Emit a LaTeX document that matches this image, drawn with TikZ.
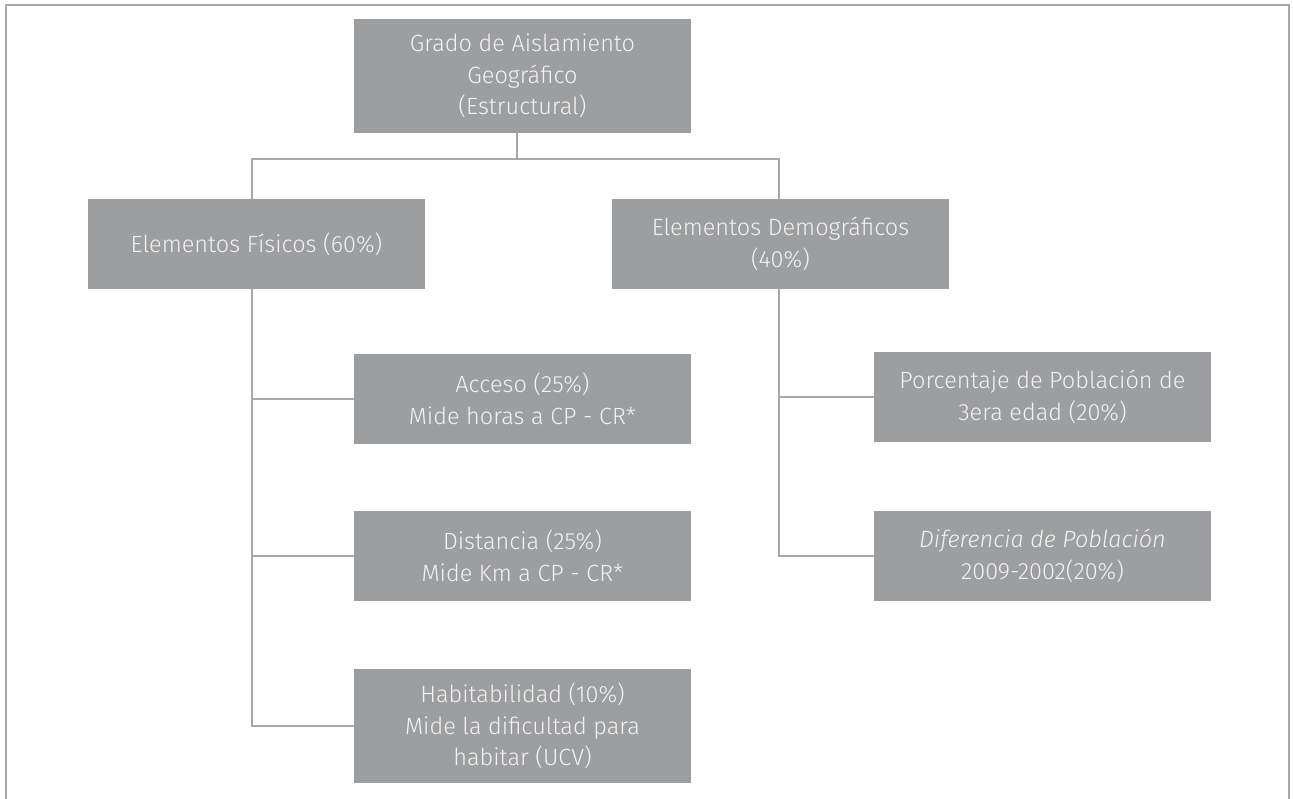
\documentclass[tikz,border=0pt]{standalone}
\usepackage{fontspec}
\setmainfont{Fira Sans Light}[ItalicFont={Fira Sans Light Italic}]
\usepackage{tikz}
\usetikzlibrary{calc}
\definecolor{boxgray}{HTML}{9D9EA0}
\definecolor{linegray}{HTML}{A8A8A8}
\definecolor{textgray}{HTML}{F2F2F2}

\begin{document}
\begin{tikzpicture}[x=1pt,y=-1pt,
              box/.style={fill=boxgray,text=textgray,inner sep=0pt,align=center,
                minimum width=337pt,minimum height=90pt,
                font=\fontsize{23.5}{31.5}\selectfont},
              link/.style={draw=linegray,line width=2pt}]
              \useasboundingbox (0,0) rectangle (1293,799);
              \draw[linegray,line width=2.2pt] (6,799) -- (6,5) -- (1289,5) -- (1289,799);

              \node[box,minimum height=114pt] (top) at (522.5,76) {Grado de Aislamiento\\Geográfico\\(Estructural)};
              \node[box] (fis) at (256.5,244) {Elementos Físicos (60\%)};
              \node[box] (dem) at (780.5,244) {Elementos Demográficos\\(40\%)};

              \node[box] (acc) at (522.5,399) {Acceso (25\%)\\Mide horas a CP - CR*};
              \node[box] (dis) at (522.5,556) {Distancia (25\%)\\Mide Km a CP - CR*};
              \node[box,minimum height=114pt] (hab) at (522.5,726) {Habitabilidad (10\%)\\Mide la dificultad para\\habitar (UCV)};

              \node[box] (por) at (1042.5,397) {Porcentaje de Población de\\3era edad (20\%)};
              \node[box] (dif) at (1042.5,556) {\textit{Diferencia de Población}\\2009-2002(20\%)};

              \coordinate (hl) at (252,159);
              \coordinate (hr) at (779,159);
              \coordinate (sl) at (252,289);
              \coordinate (sr) at (779,289);

              \draw[link] (top.south -| 517,0) -- (517,159);
              \draw[link] (hl |- fis.north) -- (hl) -- (hr) -- (hr |- dem.north);

              \draw[link] (sl) |- (hab.west);
              \draw[link] (sl |- acc.west) -- (acc.west);
              \draw[link] (sl |- dis.west) -- (dis.west);

              \draw[link] (sr) |- (dif.west);
              \draw[link] (sr |- por.west) -- (por.west);

            \end{tikzpicture}
\end{document}
